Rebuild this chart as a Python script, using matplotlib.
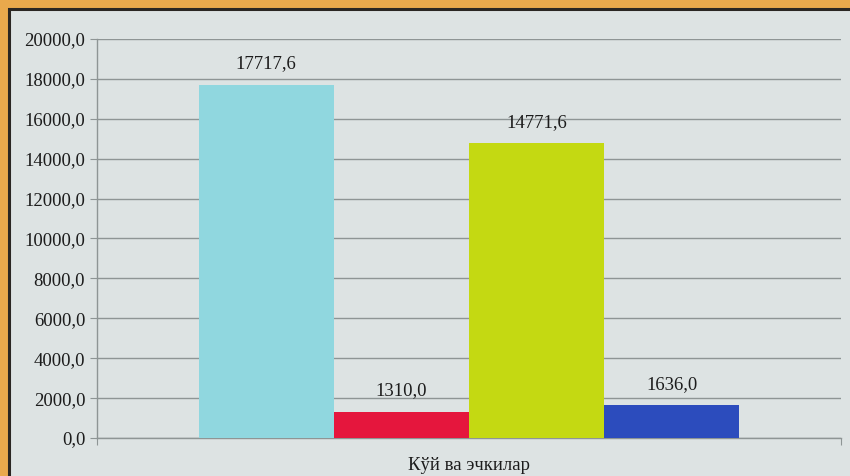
import numpy as np
import matplotlib.pyplot as plt
from matplotlib.patches import Rectangle

categories = ["1", "2", "3", "4"]
values = [17717.6, 1310.0, 14771.6, 1636.0]
colors = ["#90d7df", "#e5163d", "#c4d912", "#2c4cbd"]
yticks = np.arange(0, 20001, 2000)
xlabel = "Кўй ва эчкилар"

plt.rcParams['font.family'] = ['Liberation Serif', 'DejaVu Serif']

fig = plt.figure(figsize=(8.5, 4.76), dpi=100)
fig.patch.set_facecolor("#e9a94c")
# inner panel with dark frame line
fig.patches.append(Rectangle((9/850, -0.01), 1.0, 1 - 9/476 + 0.01, transform=fig.transFigure,
                             facecolor="#dde3e3", edgecolor="#2a2622", linewidth=2.2, zorder=-5))

ax = fig.add_axes([97/850, 1 - 438/476, 744/850, 399/476])
ax.set_facecolor("none")
x = np.arange(len(values))
bars = ax.bar(x, values, width=1.0, color=colors, zorder=3)

ax.set_ylim(0, 20000)
ax.set_xlim(-1.252, 4.252)
ax.set_yticks(yticks)
ax.set_yticklabels([f"{v:.1f}".replace(".", ",") for v in yticks], fontsize=13.5, color="#1c1c1c")
ax.set_xticks([-1.252, 4.252])
ax.set_xticklabels([])
ax.tick_params(axis='y', length=5, color="#8e9595")
ax.tick_params(axis='x', length=5, color="#8e9595", direction='out')
ax.grid(axis='y', color="#8e9595", linewidth=1.0, zorder=1)
for s in ["top", "right"]:
    ax.spines[s].set_visible(False)
for s in ["left", "bottom"]:
    ax.spines[s].set_color("#8e9595")
    ax.spines[s].set_linewidth(1.0)

for xi, v in zip(x, values):
    ax.annotate(f"{v:.1f}".replace(".", ","), (xi, v), xytext=(0, 9), textcoords="offset points",
                ha="center", va="bottom", fontsize=13.5, color="#1c1c1c")

ax.set_xlabel(xlabel, fontsize=13.5, color="#1c1c1c", labelpad=5)

fig.savefig("out.png", dpi=100, facecolor=fig.get_facecolor())
